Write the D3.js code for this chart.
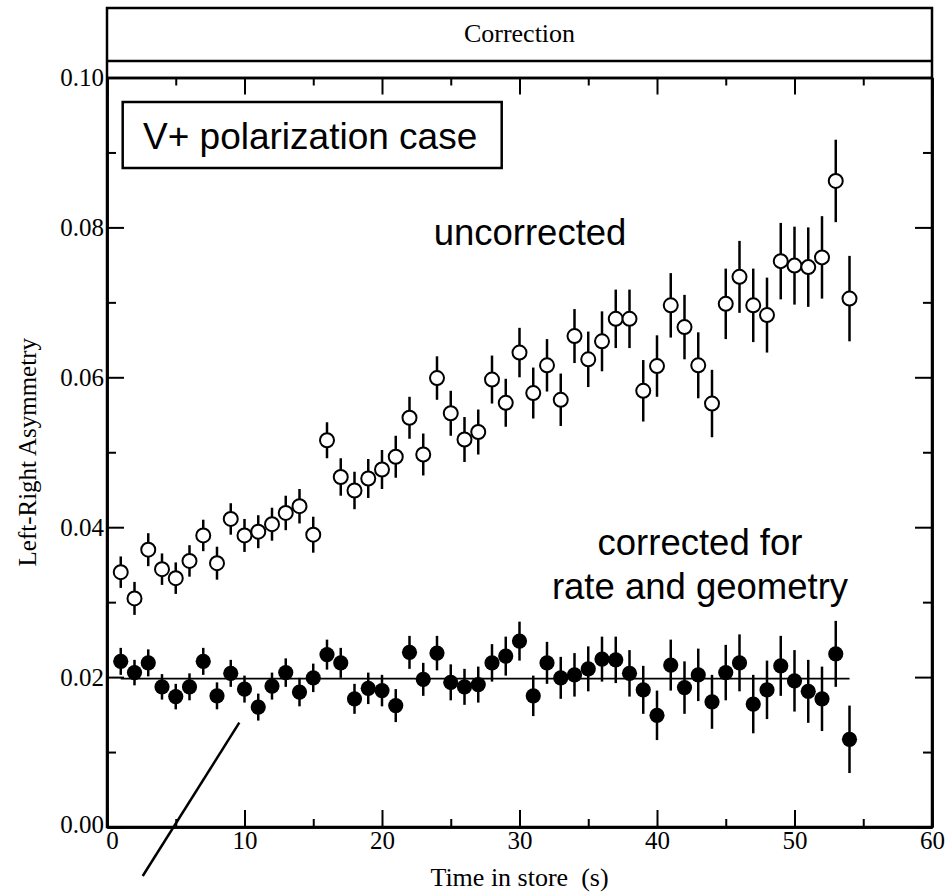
<!DOCTYPE html>
<html>
<head>
<meta charset="utf-8">
<script src="https://cdn.jsdelivr.net/npm/d3@7"></script>
<style>
  body { margin: 0; background: #fff; }
  svg { display: block; }
</style>
</head>
<body>
<div id="chart"></div>
<script>
// time in store (s)
var timeSec = [1, 2, 3, 4, 5, 6, 7, 8, 9, 10, 11, 12, 13, 14, 15, 16, 17, 18,
  19, 20, 21, 22, 23, 24, 25, 26, 27, 28, 29, 30, 31, 32, 33, 34, 35, 36,
  37, 38, 39, 40, 41, 42, 43, 44, 45, 46, 47, 48, 49, 50, 51, 52, 53, 54]

// open circles
var uncorrected = [0.0340, 0.0305, 0.0370, 0.0344, 0.0332, 0.0355, 0.0389, 0.0352, 0.0411,
  0.0389, 0.0394, 0.0404, 0.0419, 0.0428, 0.0390, 0.0516, 0.0467, 0.0449,
  0.0465, 0.0477, 0.0494, 0.0546, 0.0497, 0.0599, 0.0552, 0.0517, 0.0527,
  0.0597, 0.0566, 0.0633, 0.0579, 0.0616, 0.0570, 0.0655, 0.0624, 0.0648,
  0.0678, 0.0678, 0.0582, 0.0615, 0.0696, 0.0667, 0.0616, 0.0565, 0.0698,
  0.0734, 0.0696, 0.0683, 0.0755, 0.0749, 0.0747, 0.0760, 0.0862, 0.0705]
var uncorrectedErr = [0.0021, 0.0022, 0.0022, 0.0021, 0.0021, 0.0021, 0.0021, 0.0022, 0.0021,
  0.0022, 0.0022, 0.0022, 0.0023, 0.0023, 0.0024, 0.0024, 0.0025, 0.0025,
  0.0026, 0.0026, 0.0028, 0.0028, 0.0028, 0.0029, 0.0030, 0.0030, 0.0030,
  0.0032, 0.0032, 0.0033, 0.0034, 0.0035, 0.0035, 0.0036, 0.0037, 0.0040,
  0.0039, 0.0039, 0.0041, 0.0041, 0.0043, 0.0043, 0.0044, 0.0045, 0.0047,
  0.0048, 0.0049, 0.0050, 0.0051, 0.0052, 0.0053, 0.0055, 0.0055, 0.0057]

// filled circles
var corrected = [0.0221, 0.0206, 0.0219, 0.0187, 0.0174, 0.0187, 0.0221, 0.0175, 0.0205,
  0.0184, 0.0160, 0.0188, 0.0206, 0.0180, 0.0199, 0.0230, 0.0219, 0.0171,
  0.0185, 0.0182, 0.0162, 0.0233, 0.0197, 0.0232, 0.0193, 0.0187, 0.0190,
  0.0219, 0.0228, 0.0248, 0.0175, 0.0219, 0.0199, 0.0203, 0.0211, 0.0224,
  0.0223, 0.0205, 0.0183, 0.0149, 0.0216, 0.0186, 0.0203, 0.0167, 0.0206,
  0.0219, 0.0164, 0.0183, 0.0215, 0.0195, 0.0181, 0.0171, 0.0231, 0.0117]
var correctedErr = [0.0018, 0.0017, 0.0018, 0.0017, 0.0017, 0.0018, 0.0018, 0.0018, 0.0018,
  0.0018, 0.0018, 0.0018, 0.0019, 0.0019, 0.0019, 0.0020, 0.0020, 0.0020,
  0.0021, 0.0021, 0.0022, 0.0022, 0.0022, 0.0023, 0.0024, 0.0024, 0.0024,
  0.0025, 0.0026, 0.0026, 0.0027, 0.0028, 0.0028, 0.0029, 0.0030, 0.0030,
  0.0031, 0.0031, 0.0032, 0.0033, 0.0034, 0.0035, 0.0035, 0.0036, 0.0037,
  0.0038, 0.0039, 0.0039, 0.0040, 0.0041, 0.0042, 0.0043, 0.0044, 0.0045]

// flat fit through corrected points
var fitLevel = 0.0198
var fitRange = [1, 54]

var xMajorTicks = [0, 10, 20, 30, 40, 50, 60]
var xMinorTicks = [5, 15, 25, 35, 45, 55]
var yMajorTicks = [0.00, 0.02, 0.04, 0.06, 0.08, 0.10]
var yMinorTicks = [0.01, 0.03, 0.05, 0.07, 0.09]

var width = 947
var height = 893
var plotLeft = 107
var plotRight = 932
var plotTop = 77.5
var plotBottom = 827

var svg = d3.select('#chart')
  .append('svg')
  .attr('width', width)
  .attr('height', height)

var x = d3.scaleLinear().domain([0, 60]).range([plotLeft, plotRight])
var y = d3.scaleLinear().domain([0, 0.10]).range([plotBottom, plotTop])

var serif = '"Liberation Serif", "Times New Roman", serif'
var sans = '"Liberation Sans", Arial, sans-serif'

// header strip "Correction"
svg.append('rect')
  .attr('x', plotLeft).attr('y', 8)
  .attr('width', plotRight - plotLeft).attr('height', plotBottom - 8)
  .attr('fill', 'none').attr('stroke', '#000').attr('stroke-width', 2.5)
svg.append('line')
  .attr('x1', plotLeft).attr('x2', plotRight)
  .attr('y1', 61).attr('y2', 61)
  .attr('stroke', '#000').attr('stroke-width', 2.5)
svg.append('text')
  .attr('x', (plotLeft + plotRight) / 2).attr('y', 42)
  .attr('text-anchor', 'middle')
  .style('font-family', serif).style('font-size', '26px')
  .text('Correction')

// axes: ticks point inward
function styleAxis(g) {
  g.selectAll('.domain').attr('stroke-width', 2.5)
  g.selectAll('.tick line').attr('stroke-width', 2)
  g.selectAll('.tick text').style('font-family', serif).style('font-size', '25px').attr('fill', '#000')
}

svg.append('g')
  .attr('transform', 'translate(0,' + plotBottom + ')')
  .call(d3.axisBottom(x).tickValues(xMinorTicks).tickSizeInner(-8).tickSizeOuter(0).tickFormat(''))
  .call(styleAxis)
var xAxisG = svg.append('g')
  .attr('transform', 'translate(0,' + plotBottom + ')')
  .call(d3.axisBottom(x).tickValues(xMajorTicks).tickSizeInner(-17).tickSizeOuter(0).tickPadding(4).tickFormat(d3.format('d')))
  .call(styleAxis)
// nudge the "0" so it does not run into "0.00"
xAxisG.selectAll('.tick text').filter(d => d === 0).attr('dx', 5)

svg.append('g')
  .attr('transform', 'translate(0,' + plotTop + ')')
  .call(d3.axisTop(x).tickValues(xMinorTicks).tickSizeInner(-8).tickSizeOuter(0).tickFormat(''))
  .call(styleAxis)
svg.append('g')
  .attr('transform', 'translate(0,' + plotTop + ')')
  .call(d3.axisTop(x).tickValues(xMajorTicks).tickSizeInner(-17).tickSizeOuter(0).tickFormat(''))
  .call(styleAxis)

svg.append('g')
  .attr('transform', 'translate(' + plotLeft + ',0)')
  .call(d3.axisLeft(y).tickValues(yMinorTicks).tickSizeInner(-9).tickSizeOuter(0).tickFormat(''))
  .call(styleAxis)
var yAxisG = svg.append('g')
  .attr('transform', 'translate(' + plotLeft + ',0)')
  .call(d3.axisLeft(y).tickValues(yMajorTicks).tickSizeInner(-17).tickSizeOuter(0).tickPadding(3).tickFormat(d3.format('.2f')))
  .call(styleAxis)
yAxisG.selectAll('.tick text').filter(d => d === 0).attr('dy', '0.2em')

svg.append('g')
  .attr('transform', 'translate(' + plotRight + ',0)')
  .call(d3.axisRight(y).tickValues(yMinorTicks).tickSizeInner(-9).tickSizeOuter(0).tickFormat(''))
  .call(styleAxis)
svg.append('g')
  .attr('transform', 'translate(' + plotRight + ',0)')
  .call(d3.axisRight(y).tickValues(yMajorTicks).tickSizeInner(-17).tickSizeOuter(0).tickFormat(''))
  .call(styleAxis)

// axis titles
svg.append('text')
  .attr('x', (plotLeft + plotRight) / 2).attr('y', 886)
  .attr('text-anchor', 'middle')
  .attr('xml:space', 'preserve')
  .style('font-family', serif).style('font-size', '26px')
  .text('Time in store  (s)')

svg.append('text')
  .attr('transform', 'translate(36,' + ((plotTop + plotBottom) / 2) + ') rotate(-90)')
  .attr('text-anchor', 'middle')
  .style('font-family', serif).style('font-size', '25px')
  .text('Left-Right Asymmetry')

// fit line
svg.append('line')
  .attr('x1', x(fitRange[0])).attr('x2', x(fitRange[1]))
  .attr('y1', y(fitLevel)).attr('y2', y(fitLevel))
  .attr('stroke', '#000').attr('stroke-width', 1.8)

// data series
function drawSeries(values, errs, filled) {
  var pts = timeSec.map(function (t, i) { return { t: t, v: values[i], e: errs[i] } })
  var g = svg.append('g')
  g.selectAll('line')
    .data(pts)
    .enter()
    .append('line')
    .attr('x1', d => x(d.t)).attr('x2', d => x(d.t))
    .attr('y1', d => y(d.v - d.e)).attr('y2', d => y(d.v + d.e))
    .attr('stroke', '#000').attr('stroke-width', 2.5)
  g.selectAll('circle')
    .data(pts)
    .enter()
    .append('circle')
    .attr('cx', d => x(d.t)).attr('cy', d => y(d.v))
    .attr('r', filled ? 7.6 : 7)
    .attr('fill', filled ? '#000' : '#fff')
    .attr('stroke', '#000').attr('stroke-width', filled ? 0 : 2)
}
drawSeries(uncorrected, uncorrectedErr, false)
drawSeries(corrected, correctedErr, true)

// annotations
svg.append('rect')
  .attr('x', 122.7).attr('y', 102)
  .attr('width', 379).attr('height', 66)
  .attr('fill', '#fff').attr('stroke', '#000').attr('stroke-width', 2.5)
svg.append('text')
  .attr('x', 143).attr('y', 149)
  .style('font-family', sans).style('font-size', '37px')
  .text('V+ polarization case')

svg.append('text')
  .attr('x', 530).attr('y', 245)
  .attr('text-anchor', 'middle')
  .style('font-family', sans).style('font-size', '36.5px')
  .text('uncorrected')

svg.append('text')
  .attr('x', 700).attr('y', 555)
  .attr('text-anchor', 'middle')
  .style('font-family', sans).style('font-size', '36.5px')
  .text('corrected for')
svg.append('text')
  .attr('x', 700).attr('y', 599)
  .attr('text-anchor', 'middle')
  .style('font-family', sans).style('font-size', '36.5px')
  .text('rate and geometry')

svg.append('line')
  .attr('x1', 239.3).attr('y1', 722.7)
  .attr('x2', 142.7).attr('y2', 876)
  .attr('stroke', '#000').attr('stroke-width', 2.5)
</script>
</body>
</html>
